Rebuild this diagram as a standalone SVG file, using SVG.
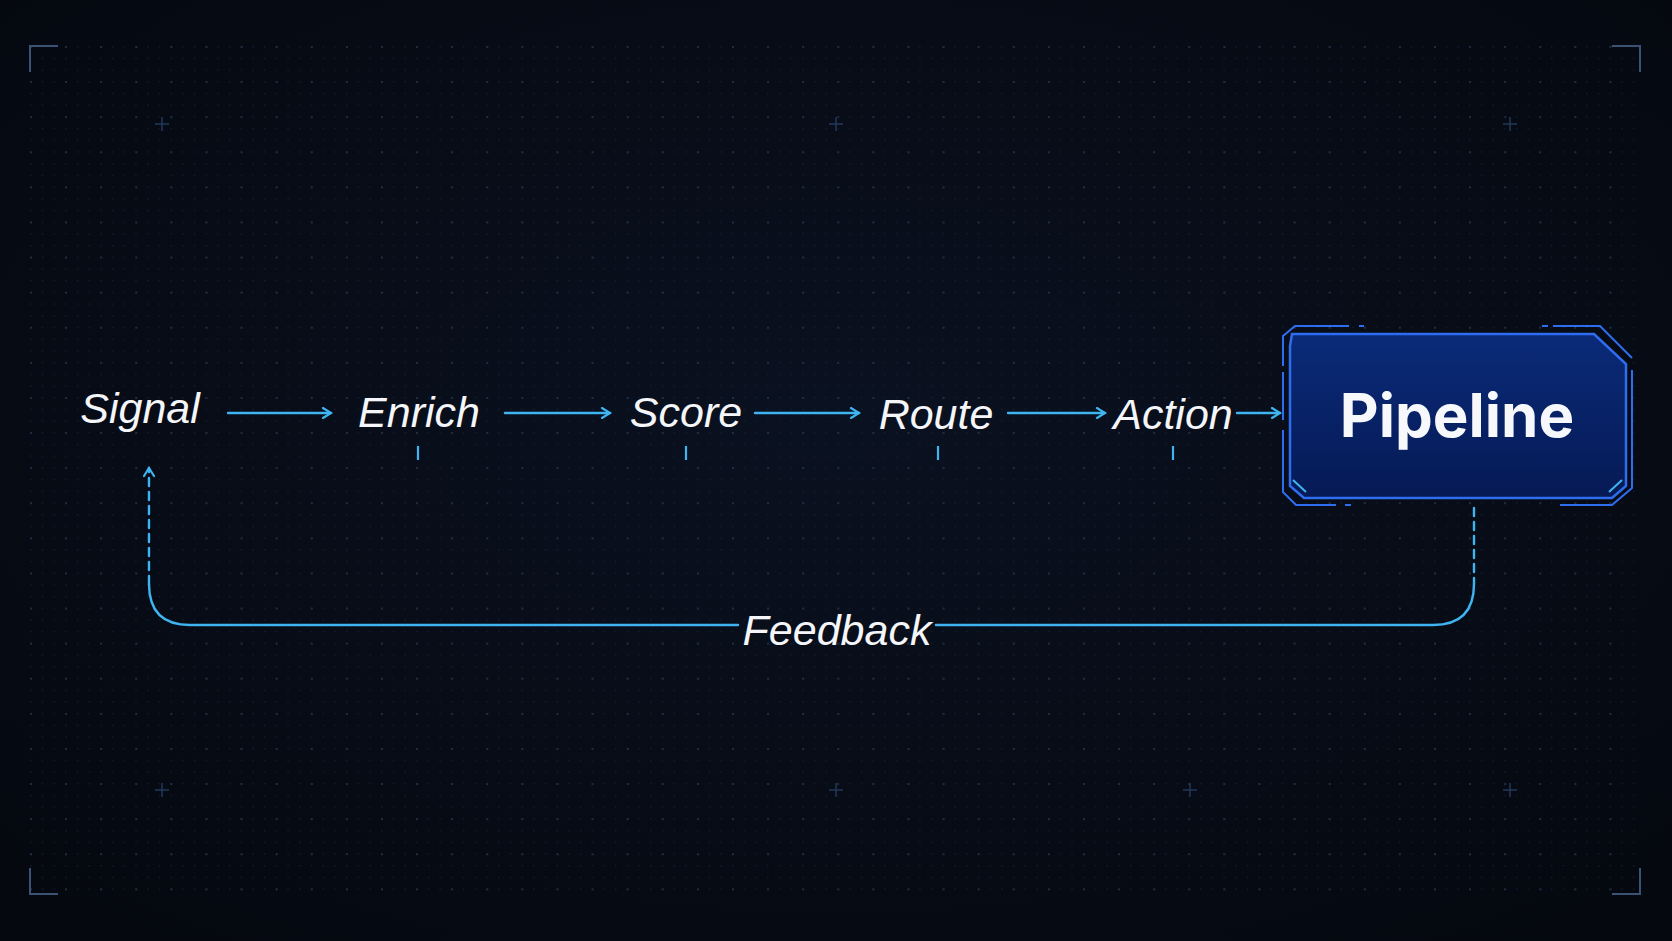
<svg xmlns="http://www.w3.org/2000/svg" width="1672" height="941" viewBox="0 0 1672 941">
<defs>
<pattern id="dots" x="30" y="46" width="11.7" height="11.7" patternUnits="userSpaceOnUse"><circle cx="0.8" cy="0.8" r="0.7" fill="#17253a"/></pattern>
<pattern id="dots2" x="30" y="46" width="35.1" height="35.1" patternUnits="userSpaceOnUse"><circle cx="1" cy="1" r="1" fill="#22344d"/></pattern>
<marker id="ah" viewBox="0 0 12 12" refX="10" refY="6" markerWidth="12" markerHeight="12" markerUnits="userSpaceOnUse" orient="auto"><path d="M2,1 L10,6 L2,11" fill="none" stroke="#3fb4f0" stroke-width="2.2" stroke-linecap="round"/></marker>
<radialGradient id="bg" cx="0.5" cy="0.45" r="0.7"><stop offset="0" stop-color="#0a1120"/><stop offset="1" stop-color="#05080f"/></radialGradient>
<linearGradient id="box" x1="0" y1="0" x2="0" y2="1"><stop offset="0" stop-color="#0a2a78"/><stop offset="1" stop-color="#061a55"/></linearGradient>
</defs>
<style>
.lbl{font-family:"Liberation Sans",sans-serif;font-style:italic;font-size:43px;fill:#f4f6fa;text-anchor:middle}
.ln{stroke:#3fb4f0;stroke-width:2.4;fill:none;stroke-linecap:round}
.tick{stroke:#3fb4f0;stroke-width:2.2}
.br{stroke:#3a5274;stroke-width:2;fill:none}
.cr{stroke:#22385a;stroke-width:1.5}
</style>
<rect width="1672" height="941" fill="url(#bg)"/>
<rect x="30" y="46" width="1610" height="848" fill="url(#dots)"/>
<rect x="30" y="46" width="1610" height="848" fill="url(#dots2)"/>
<g id="frame">
<path class="br" d="M30,72 V46 H58"/><path class="br" d="M1612,46 H1640 V72"/>
<path class="br" d="M30,868 V894 H58"/><path class="br" d="M1612,894 H1640 V868"/>
<g class="cr"><path d="M155,124h14M162,117v14"/><path d="M829,124h14M836,117v14"/><path d="M1503,124h14M1510,117v14"/><path d="M155,790h14M162,783v14"/><path d="M829,790h14M836,783v14"/><path d="M1183,790h14M1190,783v14"/><path d="M1503,790h14M1510,783v14"/></g>
</g>
<g id="connectors">
<line class="ln" x1="228" y1="413" x2="331" y2="413" marker-end="url(#ah)"/>
<line class="ln" x1="505" y1="413" x2="610" y2="413" marker-end="url(#ah)"/>
<line class="ln" x1="755" y1="413" x2="859" y2="413" marker-end="url(#ah)"/>
<line class="ln" x1="1008" y1="413" x2="1105" y2="413" marker-end="url(#ah)"/>
<line class="ln" x1="1237" y1="413" x2="1280" y2="413" marker-end="url(#ah)"/>
<path class="ln" d="M1474,508 V584" stroke-dasharray="8 6"/>
<path class="ln" d="M1474,584 Q1474,625 1433,625 H936"/>
<path class="ln" d="M738,625 H190 Q149,625 149,584"/>
<path class="ln" d="M149,584 V468" stroke-dasharray="8 6" marker-end="url(#ah)"/>
<g class="tick"><line x1="418" y1="446" x2="418" y2="460"/><line x1="686" y1="446" x2="686" y2="460"/><line x1="938" y1="446" x2="938" y2="460"/><line x1="1173" y1="446" x2="1173" y2="460"/></g>
</g>
<g id="n-signal"><text class="lbl" x="140" y="423">Signal</text></g>
<g id="n-enrich"><text class="lbl" x="419" y="427">Enrich</text></g>
<g id="n-score"><text class="lbl" x="686" y="427">Score</text></g>
<g id="n-route"><text class="lbl" x="936" y="429">Route</text></g>
<g id="n-action"><text class="lbl" x="1173" y="429">Action</text></g>
<g id="n-feedback"><text class="lbl" x="837" y="645">Feedback</text></g>
<g id="n-pipeline">
<path d="M1292,334 H1594 L1626,364 V486 L1612,498 H1304 L1290,486 V346 Z" fill="url(#box)" stroke="#2f6df0" stroke-width="2.5"/>
<path d="M1349,326 H1295 L1283,336 V366 M1283,372 V420 M1283,430 V492 L1296,505 H1336 M1345,505 H1351 M1560,505 H1612 L1632,488 V370 M1632,362 V362 M1632,358 L1600,326 H1553 M1542,326 H1548 M1359,326 H1364" fill="none" stroke="#2f6df0" stroke-width="2"/>
<path d="M1293,480 L1306,492 M1622,480 L1609,492" stroke="#3fb4f0" stroke-width="2"/>
<text x="1457" y="437" font-family="Inter,'Liberation Sans',sans-serif" font-weight="700" font-size="60" fill="#f6f8fc" text-anchor="middle">Pipeline</text>
</g>
</svg>
